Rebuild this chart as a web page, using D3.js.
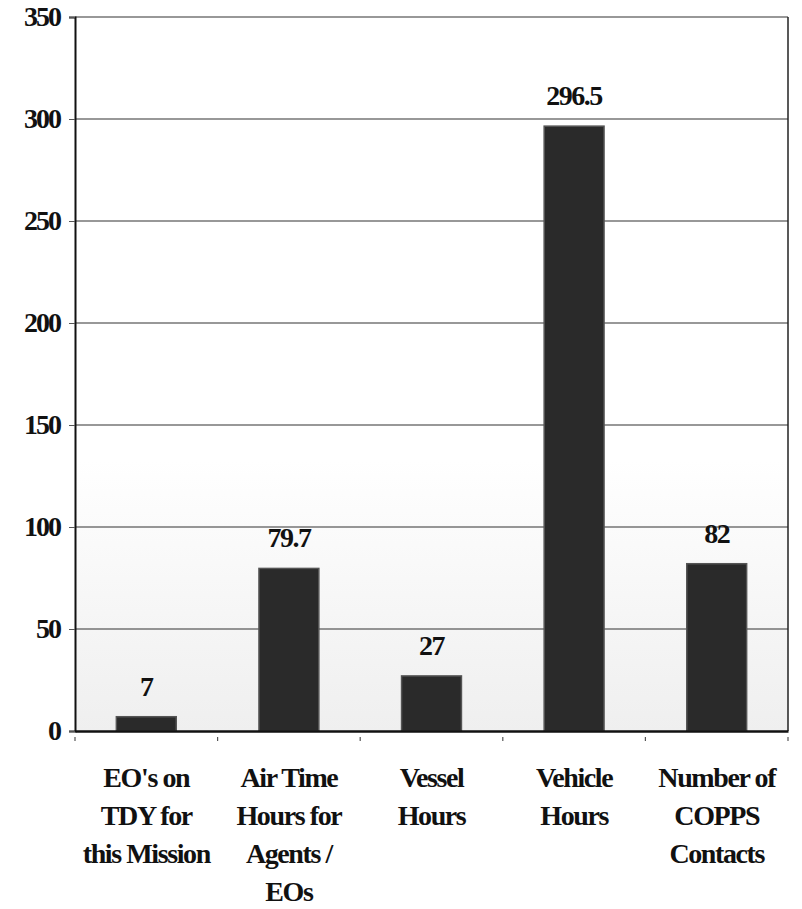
<!DOCTYPE html>
<html>
<head>
<meta charset="utf-8">
<script src="https://cdn.jsdelivr.net/npm/d3@7"></script>
<style>
  body { margin: 0; background: #fff; }
  #chart { width: 802px; height: 909px; }
</style>
</head>
<body>
<div id="chart"></div>
<script>
const categories = ["EO's on TDY", "Air Time Hours", "Vessel Hours", "Vehicle Hours", "COPPS Contacts"];
const categoryLines = [
    ["EO's on", "TDY for", "this Mission"],
    ["Air Time", "Hours for", "Agents /", "EOs"],
    ["Vessel", "Hours"],
    ["Vehicle", "Hours"],
    ["Number of", "COPPS", "Contacts"]
];
const values = [7, 79.7, 27, 296.5, 82];
const valueLabels = ["7", "79.7", "27", "296.5", "82"];
const yTicks = [0, 50, 100, 150, 200, 250, 300, 350];

const serif = "'Liberation Serif', 'Times New Roman', Times, serif";
const margin = { top: 17, right: 14, bottom: 178, left: 75 };
const W = 802, H = 909;
const width = W - margin.left - margin.right;
const height = H - margin.top - margin.bottom;

const data = categories.map((c, i) => ({ cat: c, lines: categoryLines[i], value: values[i], label: valueLabels[i] }));

const xScale = d3.scaleBand().domain(categories).range([0, width]).paddingInner(0.58).paddingOuter(0.29);
const band = d3.scaleBand().domain(categories).range([0, width]);
const yScale = d3.scaleLinear().domain([0, 350]).range([height, 0]);

const svg = d3.select("#chart")
    .append("svg")
    .attr("width", W)
    .attr("height", H)
    .append("g")
    .attr("transform", `translate(${margin.left},${margin.top})`);

// faint grey wash in the lower plot area
const defs = svg.append("defs");
const grad = defs.append("linearGradient").attr("id", "wash").attr("x1", 0).attr("y1", 0).attr("x2", 0).attr("y2", 1);
grad.append("stop").attr("offset", "0%").attr("stop-color", "#ffffff");
grad.append("stop").attr("offset", "62%").attr("stop-color", "#ffffff");
grad.append("stop").attr("offset", "100%").attr("stop-color", "#efefef");
svg.append("rect")
    .attr("x", 0).attr("y", 0)
    .attr("width", width).attr("height", height)
    .attr("fill", "url(#wash)");

// gridlines
svg.selectAll(".grid")
    .data(yTicks.filter(d => d > 0))
    .enter().append("line")
    .attr("class", "grid")
    .attr("x1", 0)
    .attr("x2", width)
    .attr("y1", d => yScale(d))
    .attr("y2", d => yScale(d))
    .attr("stroke", "#333")
    .attr("stroke-width", 1.1);

// y axis
const yAxis = d3.axisLeft(yScale).tickValues(yTicks).tickSize(6).tickPadding(9);
const yg = svg.append("g").attr("class", "y-axis").call(yAxis);
yg.select(".domain").attr("stroke", "#111").attr("stroke-width", 2);
yg.selectAll(".tick line").attr("stroke", "#555").attr("stroke-width", 1);
yg.selectAll(".tick text")
    .style("font-family", serif)
    .style("font-weight", "bold")
    .style("font-size", "28px")
    .style("letter-spacing", "-2px")
    .attr("fill", "#111");

// right border
svg.append("line")
    .attr("x1", width).attr("x2", width)
    .attr("y1", 0).attr("y2", height)
    .attr("stroke", "#222").attr("stroke-width", 1.5);

// bars
svg.selectAll(".bar")
    .data(data)
    .enter().append("rect")
    .attr("class", "bar")
    .attr("x", d => xScale(d.cat))
    .attr("y", d => yScale(d.value))
    .attr("width", xScale.bandwidth())
    .attr("height", d => height - yScale(d.value))
    .attr("fill", "#2a2a2a")
    .attr("stroke", "#555")
    .attr("stroke-width", 1.5);

// bottom axis
const xAxis = d3.axisBottom(band).tickSize(0).tickFormat("");
const xg = svg.append("g")
    .attr("class", "x-axis")
    .attr("transform", `translate(0,${height})`)
    .call(xAxis);
xg.select(".domain").attr("stroke", "#111").attr("stroke-width", 2.5);

// small tick marks at band edges
const edges = categories.map(c => band(c)).concat([width]);
svg.selectAll(".edgeTick")
    .data(edges)
    .enter().append("line")
    .attr("class", "edgeTick")
    .attr("x1", d => d).attr("x2", d => d)
    .attr("y1", height + 6).attr("y2", height + 10)
    .attr("stroke", "#555").attr("stroke-width", 1.2);

// value labels
svg.selectAll(".valueLabel")
    .data(data)
    .enter().append("text")
    .attr("class", "valueLabel")
    .attr("x", d => xScale(d.cat) + xScale.bandwidth() / 2)
    .attr("y", d => yScale(d.value) - 21)
    .attr("text-anchor", "middle")
    .attr("fill", "#111")
    .style("font-family", serif)
    .style("font-weight", "bold")
    .style("font-size", "28px")
    .style("letter-spacing", "-1.5px")
    .text(d => d.label);

// category labels
const catG = svg.selectAll(".catLabel")
    .data(data)
    .enter().append("text")
    .attr("class", "catLabel")
    .attr("text-anchor", "middle")
    .attr("fill", "#111")
    .style("font-family", serif)
    .style("font-weight", "bold")
    .style("font-size", "28px")
    .style("letter-spacing", "-1.4px")
    .attr("transform", d => `translate(${band(d.cat) + band.bandwidth() / 2},${height + 56})`);

catG.selectAll("tspan")
    .data(d => d.lines)
    .enter().append("tspan")
    .attr("x", 0)
    .attr("y", (d, i) => i * 38)
    .text(d => d);
</script>
</body>
</html>
